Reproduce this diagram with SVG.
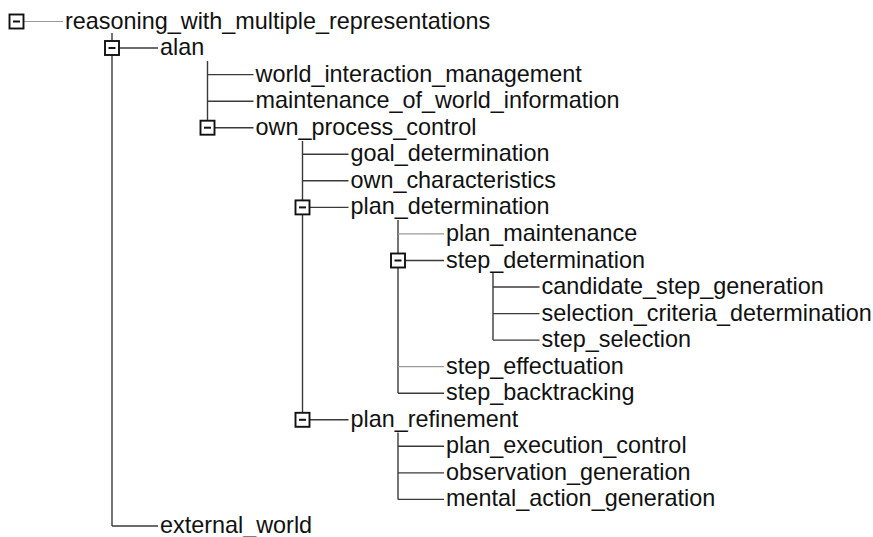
<svg xmlns="http://www.w3.org/2000/svg" width="873" height="537" viewBox="0 0 873 537">
<style>
text{font-family:"Liberation Sans",Arial,Helvetica,sans-serif;font-size:23.4px;fill:#111}
.ln{stroke:#3a3a3a;stroke-width:1.4;fill:none}
.lt{stroke:#9a9a9a;stroke-width:1.2;fill:none}
.bx{fill:#fff;stroke:#111;stroke-width:1.9}
.mn{stroke:#111;stroke-width:2}
</style>
<defs>
<g id="tog"><rect class="bx" x="-7" y="-7" width="14" height="14"/><line class="mn" x1="-3.5" y1="0" x2="3.5" y2="0"/></g>
</defs>
<rect width="873" height="537" fill="#fff"/>
<g id="connectors">
<path class="ln" d="M112,33 V526"/>
<path class="ln" d="M207.5,61 V120.7"/>
<path class="ln" d="M302.5,141 V419.8"/>
<path class="ln" d="M398,220 V393.2"/>
<path class="ln" d="M493,273 V340.1"/>
<path class="ln" d="M398,432.5 V499.4"/>
<path class="lt" d="M23.5,21.5 H63"/>
<path class="ln" d="M119,48 H158"/>
<path class="ln" d="M207.5,74.6 H253.5"/>
<path class="ln" d="M207.5,101.2 H253.5"/>
<path class="ln" d="M214.5,127.7 H253.5"/>
<path class="ln" d="M302.5,154.3 H348.5"/>
<path class="ln" d="M302.5,180.8 H348.5"/>
<path class="ln" d="M309.5,207.4 H348.5"/>
<path class="lt" d="M398,233.9 H444"/>
<path class="ln" d="M405,260.5 H444"/>
<path class="ln" d="M493,287 H539.5"/>
<path class="ln" d="M493,313.6 H539.5"/>
<path class="ln" d="M493,340.1 H539.5"/>
<path class="lt" d="M398,366.7 H444"/>
<path class="ln" d="M398,393.2 H444"/>
<path class="ln" d="M309.5,419.8 H348.5"/>
<path class="ln" d="M398,446.3 H444"/>
<path class="ln" d="M398,472.9 H444"/>
<path class="ln" d="M398,499.4 H444"/>
<path class="ln" d="M112,526 H158"/>
</g>
<g id="n_reasoning_with_multiple_representations"><use href="#tog" x="16.5" y="21.5"/><text x="65" y="28.5">reasoning_with_multiple_representations</text></g>
<g id="n_alan"><use href="#tog" x="112" y="48"/><text x="160" y="55">alan</text></g>
<g id="n_world_interaction_management"><text x="255.5" y="81.6">world_interaction_management</text></g>
<g id="n_maintenance_of_world_information"><text x="255.5" y="108.2">maintenance_of_world_information</text></g>
<g id="n_own_process_control"><use href="#tog" x="207.5" y="127.7"/><text x="255.5" y="134.7">own_process_control</text></g>
<g id="n_goal_determination"><text x="350.5" y="161.3">goal_determination</text></g>
<g id="n_own_characteristics"><text x="350.5" y="187.8">own_characteristics</text></g>
<g id="n_plan_determination"><use href="#tog" x="302.5" y="207.4"/><text x="350.5" y="214.4">plan_determination</text></g>
<g id="n_plan_maintenance"><text x="446" y="240.9">plan_maintenance</text></g>
<g id="n_step_determination"><use href="#tog" x="398" y="260.5"/><text x="446" y="267.5">step_determination</text></g>
<g id="n_candidate_step_generation"><text x="541.5" y="294">candidate_step_generation</text></g>
<g id="n_selection_criteria_determination"><text x="541.5" y="320.6">selection_criteria_determination</text></g>
<g id="n_step_selection"><text x="541.5" y="347.1">step_selection</text></g>
<g id="n_step_effectuation"><text x="446" y="373.7">step_effectuation</text></g>
<g id="n_step_backtracking"><text x="446" y="400.2">step_backtracking</text></g>
<g id="n_plan_refinement"><use href="#tog" x="302.5" y="419.8"/><text x="350.5" y="426.8">plan_refinement</text></g>
<g id="n_plan_execution_control"><text x="446" y="453.3">plan_execution_control</text></g>
<g id="n_observation_generation"><text x="446" y="479.9">observation_generation</text></g>
<g id="n_mental_action_generation"><text x="446" y="506.4">mental_action_generation</text></g>
<g id="n_external_world"><text x="160" y="533">external_world</text></g>
</svg>
